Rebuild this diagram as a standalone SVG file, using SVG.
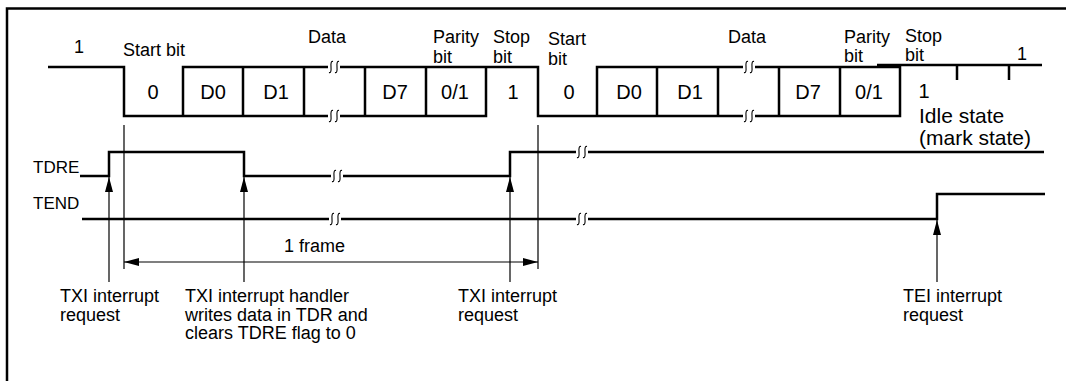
<svg xmlns="http://www.w3.org/2000/svg" width="1066" height="381" viewBox="0 0 1066 381">
<defs>
<style>
.sig{fill:none;stroke:#000;stroke-width:2.5;stroke-linejoin:miter}
.thin{fill:none;stroke:#000;stroke-width:1.2}
text{font-family:"Liberation Sans",Arial,sans-serif;fill:#000}
.s17{font-size:17px}
.s18{font-size:18px}
.s20{font-size:20px}
.s21{font-size:21px}
.mid{text-anchor:middle}
.bk{fill:none;stroke:#000;stroke-width:1.1}
</style>
<marker id="ah" viewBox="0 0 15 8" refX="15" refY="4" markerWidth="15" markerHeight="8" markerUnits="userSpaceOnUse" orient="auto-start-reverse"><path d="M0,0 L15,4 L0,8 z" fill="#000"/></marker>
<g id="brk"><rect x="-6" y="-3" width="12" height="6" fill="#fff"/><path class="bk" d="M-1,-5.5 Q-3.5,-6.5 -3,0 Q-2.5,6.5 -5,5.5"/><path class="bk" d="M5,-5.5 Q2.5,-6.5 3,0 Q3.5,6.5 1,5.5"/></g>
</defs>
<rect width="1066" height="381" fill="#fff"/>
<g id="border"><path d="M7,381 V8.5 H1066" fill="none" stroke="#000" stroke-width="2.5"/></g>

<g id="txd">
<path class="sig" d="M48,67 H124 V116 H486 V67"/>
<path class="sig" d="M183,116 V67 H538 V116 H900 V67 H597 V116"/>
<path class="sig" d="M243,67 V116 M304,67 V116 M365,67 V116 M426,67 V116 M657,67 V116 M718,67 V116 M779,67 V116 M840,67 V116"/>
<path class="sig" d="M877,65 H1042 M957,65 V80 M1009,65 V80"/>
<use href="#brk" x="334" y="67"/><use href="#brk" x="334" y="116"/>
<use href="#brk" x="749" y="67"/><use href="#brk" x="749" y="116"/>
</g>

<g id="tdre">
<path class="sig" d="M80,176 H109 V152 H244 V176 H510 V152 H1044"/>
<use href="#brk" x="337" y="176"/><use href="#brk" x="582" y="152"/>
<text class="s17" x="33" y="173">TDRE</text>
</g>

<g id="tend">
<path class="sig" d="M82,219 H937 V194 H1045"/>
<use href="#brk" x="335" y="219"/><use href="#brk" x="582" y="219"/>
<text class="s17" x="33" y="209">TEND</text>
</g>

<g id="connectors">
<path class="thin" d="M124,125 V269 M538,125 V269"/>
<path class="thin" d="M124,262 H538" marker-start="url(#ah)" marker-end="url(#ah)"/>
<path class="thin" d="M109,282 V177" marker-end="url(#ah)"/>
<path class="thin" d="M244,282 V177" marker-end="url(#ah)"/>
<path class="thin" d="M510,282 V177" marker-end="url(#ah)"/>
<path class="thin" d="M937,282 V220" marker-end="url(#ah)"/>
</g>

<g id="top-labels" class="s18">
<text class="mid" x="79" y="53">1</text>
<text x="123" y="56">Start bit</text>
<text x="308" y="43">Data</text>
<text x="433" y="43">Parity</text><text x="433" y="63">bit</text>
<text x="493" y="43">Stop</text><text x="493" y="63">bit</text>
<text x="548" y="45">Start</text><text x="548" y="65">bit</text>
<text x="728" y="43">Data</text>
<text x="844" y="43">Parity</text><text x="844" y="62">bit</text>
<text x="905" y="42">Stop</text><text x="905" y="61">bit</text>
<text class="mid" x="1022" y="60">1</text>
</g>

<g id="bit-values" class="s20">
<text class="mid" x="153" y="99">0</text>
<text class="mid" x="213" y="99">D0</text>
<text class="mid" x="276" y="99">D1</text>
<text class="mid" x="395" y="99">D7</text>
<text class="mid" x="455" y="99">0/1</text>
<text class="mid" x="513" y="99">1</text>
<text class="mid" x="569" y="99">0</text>
<text class="mid" x="629" y="99">D0</text>
<text class="mid" x="690" y="99">D1</text>
<text class="mid" x="808" y="99">D7</text>
<text class="mid" x="869" y="99">0/1</text>
<text class="mid" x="924" y="98">1</text>
</g>
<g id="idle-label" class="s21">
<text x="919" y="123">Idle state</text>
<text x="919" y="145">(mark state)</text>
</g>

<g id="annotations" class="s18">
<text x="284" y="252">1 frame</text>
<text x="60" y="302">TXI interrupt</text><text x="60" y="321">request</text>
<text x="185" y="302">TXI interrupt handler</text><text x="185" y="321">writes data in TDR and</text><text x="185" y="339">clears TDRE flag to 0</text>
<text x="458" y="302">TXI interrupt</text><text x="458" y="321">request</text>
<text x="903" y="302">TEI interrupt</text><text x="903" y="321">request</text>
</g>
</svg>
